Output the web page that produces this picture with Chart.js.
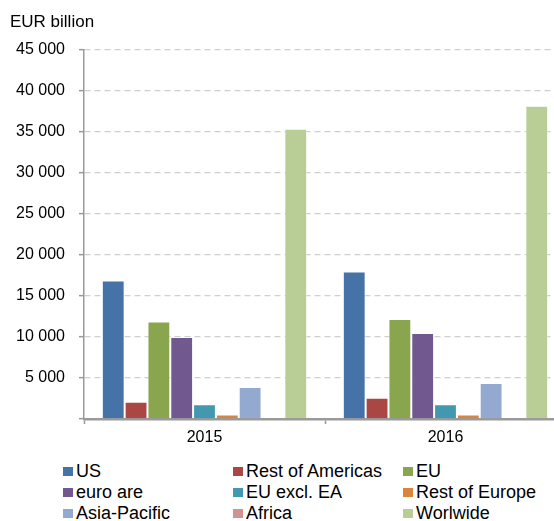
<!DOCTYPE html>
<html>
<head>
<meta charset="utf-8">
<script src="https://cdn.jsdelivr.net/npm/chart.js@4"></script>
<style>
  html, body { margin: 0; padding: 0; background: #fff; }
  body { width: 554px; height: 521px; overflow: hidden; position: relative;
         font-family: "Liberation Sans", Arial, sans-serif; color: #000; }
  #wrap { position: absolute; left: 0; top: 0; width: 554px; height: 455px; overflow: hidden; }
  #chart { position: absolute; left: 0; top: 0; }
  #unit { position: absolute; left: 10px; top: 12px; font-size: 17px; }
  #legend .item { position: absolute; font-size: 18px; line-height: 20px; white-space: nowrap; }
  #legend .sw { position: absolute; width: 10px; height: 9px; }
</style>
</head>
<body>
<div id="wrap"><canvas id="chart" width="570" height="455"></canvas></div>
<div id="unit">EUR billion</div>
<div id="legend"></div>
<script>
  // ---- data ----
  const years = ['2015', '2016'];
  const regions = ['US', 'Rest of Americas', 'EU', 'euro are', 'EU excl. EA', 'Rest of Europe', 'Asia-Pacific', 'Africa', 'Worlwide'];
  const colors = ['#4572A7', '#AA4643', '#89A54E', '#71588F', '#4198AF', '#DB843D', '#93A9CF', '#D19392', '#B9CD96'];
  const us        = [16900, 18000];
  const restAm    = [2100, 2600];
  const eu        = [11900, 12200];
  const euroArea  = [10000, 10500];
  const euExclEA  = [1800, 1800];
  const restEur   = [550, 550];
  const asiaPac   = [3900, 4400];
  const africa    = [0, 0];
  const worldwide = [35400, 38200];
  const series = [us, restAm, eu, euroArea, euExclEA, restEur, asiaPac, africa, worldwide];
  const yTicks = [0, 5000, 10000, 15000, 20000, 25000, 30000, 35000, 40000, 45000];

  const FONT = '"Liberation Sans", Arial, sans-serif';
  // 45000 -> "45 000", zero left blank as in the original
  const fmt = (v) => v === 0 ? '' : String(v).replace(/\B(?=(\d{3})+(?!\d))/g, ' ');

  new Chart(document.getElementById('chart'), {
    type: 'bar',
    data: {
      labels: years,
      datasets: regions.map((r, i) => ({
        label: r, data: series[i], backgroundColor: colors[i],
        borderColor: 'rgba(255,255,255,0.55)', borderWidth: 1,
        barPercentage: 1.0, categoryPercentage: 0.852
      }))
    },
    options: {
      responsive: false, animation: false,
      layout: { padding: { top: 50, right: 4, left: 0, bottom: 0 } },
      plugins: { legend: { display: false }, tooltip: { enabled: false }, title: { display: false } },
      scales: {
        x: {
          grid: { drawOnChartArea: false, drawTicks: true, tickLength: 5, tickColor: '#999', tickWidth: 1.5 },
          border: { display: true, color: '#9a9a9a', width: 2.5 },
          ticks: { color: '#000', font: { family: FONT, size: 16 }, padding: 4 },
          afterFit: (s) => { s.height = 36; }
        },
        y: {
          min: 0, max: 45000,
          afterBuildTicks: (s) => { s.ticks = yTicks.map(v => ({ value: v })); },
          grid: { color: '#cfcfcf', lineWidth: 1.3, borderDash: [6, 4], tickLength: 5, tickColor: '#999', tickWidth: 1.5, tickBorderDash: [] },
          border: { display: true, color: '#9a9a9a', width: 1.5, dash: [6, 4] },
          ticks: { color: '#000', font: { family: FONT, size: 16 }, padding: 14, callback: (v) => fmt(v) },
          afterFit: (s) => { s.width = 84; }
        }
      }
    }
  });

  // ---- legend, three columns like the original ----
  const colX = [63, 233, 403];
  const rowY = [471, 492, 513];
  const legend = document.getElementById('legend');
  regions.forEach((r, i) => {
    const x = colX[i % 3], y = rowY[Math.floor(i / 3)];
    const sw = document.createElement('div');
    sw.className = 'sw';
    sw.style.left = x + 'px'; sw.style.top = (y - 4) + 'px'; sw.style.background = colors[i];
    const t = document.createElement('div');
    t.className = 'item';
    t.style.left = (x + 13) + 'px'; t.style.top = (y - 10) + 'px';
    t.textContent = r;
    legend.appendChild(sw); legend.appendChild(t);
  });
</script>
</body>
</html>
